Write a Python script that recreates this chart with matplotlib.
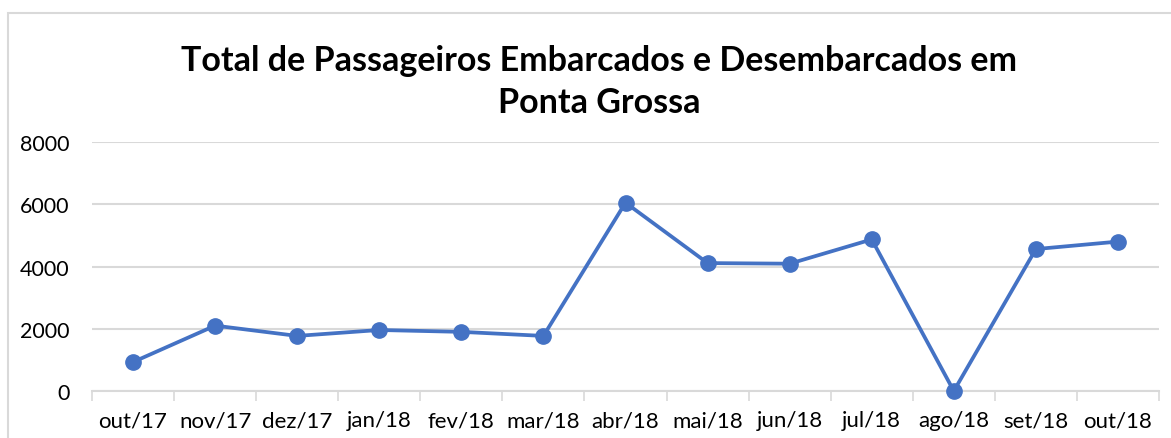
import matplotlib.pyplot as plt
from matplotlib.patches import Rectangle
import numpy as np

meses = ['out/17', 'nov/17', 'dez/17', 'jan/18', 'fev/18', 'mar/18', 'abr/18',
         'mai/18', 'jun/18', 'jul/18', 'ago/18', 'set/18', 'out/18']
passageiros = [930, 2100, 1770, 1960, 1900, 1770, 6050, 4110, 4090, 4870, 0, 4560, 4800]
yticks = [0, 2000, 4000, 6000, 8000]

plt.rcParams['font.family'] = ['Lato', 'DejaVu Sans']

fig = plt.figure(figsize=(11.71, 4.39), dpi=100)
fig.patch.set_facecolor('white')

# light frame around the chart area (extends past the right/bottom edge)
fig.patches.append(Rectangle((8 / 1171, -0.1), 1.2, 1 - 14 / 439 + 0.1,
                             transform=fig.transFigure, fill=False,
                             edgecolor='#D9D9D9', linewidth=1.5))

ax = fig.add_axes([92 / 1171, 1 - 392 / 439, (1159 - 92) / 1171, (392 - 143) / 439])
x = np.arange(len(meses))
ax.plot(x, passageiros, color='#4472C4', linewidth=2.7, marker='o',
        markersize=11, clip_on=False, zorder=3)

ax.set_xlim(-0.5, len(meses) - 0.5)
ax.set_ylim(0, 8000)
ax.set_yticks(yticks)
ax.set_yticklabels([str(v) for v in yticks], fontsize=15.5)
ax.set_xticks(x)
ax.set_xticklabels(meses, fontsize=16)
ax.set_xticks(np.arange(-0.5, len(meses)), minor=True)
ax.tick_params(axis='x', which='major', length=0, pad=14)
ax.tick_params(axis='x', which='minor', length=7, color='#D9D9D9', width=1.2)
ax.tick_params(axis='y', length=0, pad=16)
ax.grid(axis='y', color='#D9D9D9', linewidth=1.5)
ax.set_axisbelow(True)
for s in ['top', 'right', 'left']:
    ax.spines[s].set_visible(False)
ax.spines['bottom'].set_color('#D9D9D9')
ax.spines['bottom'].set_linewidth(1.5)

fig.text(599 / 1171, 1 - 82 / 439, 'Total de Passageiros Embarcados e Desembarcados em\nPonta Grossa',
         ha='center', va='center', fontsize=24.5, fontweight='bold', linespacing=1.37)

fig.savefig('out.png', dpi=100)
